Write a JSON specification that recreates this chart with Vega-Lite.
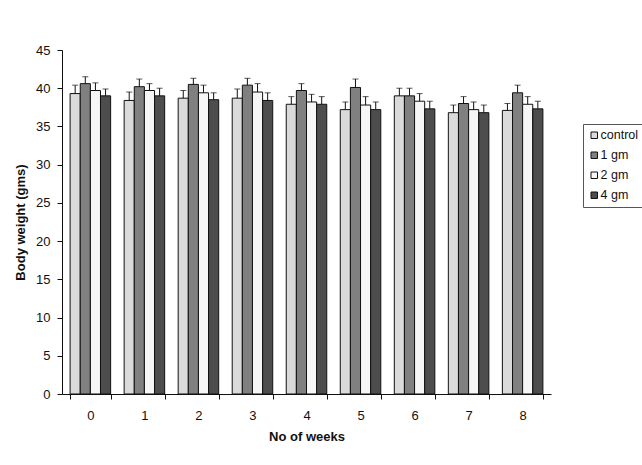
{
  "$schema": "https://vega.github.io/schema/vega-lite/v6.json",
  "width": 489,
  "height": 344,
  "autosize": {"type": "none"},
  "padding": {"left": 62, "top": 50, "right": 91, "bottom": 71},
  "background": "white",
  "data": {
    "values": [
      {"week": "0", "group": "control", "mean": 39.3, "upper": 40.4},
      {"week": "0", "group": "1 gm", "mean": 40.6, "upper": 41.5},
      {"week": "0", "group": "2 gm", "mean": 39.7, "upper": 40.7},
      {"week": "0", "group": "4 gm", "mean": 39.0, "upper": 39.9},
      {"week": "1", "group": "control", "mean": 38.4, "upper": 39.5},
      {"week": "1", "group": "1 gm", "mean": 40.2, "upper": 41.2},
      {"week": "1", "group": "2 gm", "mean": 39.7, "upper": 40.6},
      {"week": "1", "group": "4 gm", "mean": 39.0, "upper": 40.0},
      {"week": "2", "group": "control", "mean": 38.7, "upper": 39.7},
      {"week": "2", "group": "1 gm", "mean": 40.5, "upper": 41.3},
      {"week": "2", "group": "2 gm", "mean": 39.4, "upper": 40.4},
      {"week": "2", "group": "4 gm", "mean": 38.5, "upper": 39.4},
      {"week": "3", "group": "control", "mean": 38.7, "upper": 39.9},
      {"week": "3", "group": "1 gm", "mean": 40.4, "upper": 41.3},
      {"week": "3", "group": "2 gm", "mean": 39.5, "upper": 40.6},
      {"week": "3", "group": "4 gm", "mean": 38.4, "upper": 39.4},
      {"week": "4", "group": "control", "mean": 37.9, "upper": 38.9},
      {"week": "4", "group": "1 gm", "mean": 39.7, "upper": 40.6},
      {"week": "4", "group": "2 gm", "mean": 38.2, "upper": 39.2},
      {"week": "4", "group": "4 gm", "mean": 37.9, "upper": 38.9},
      {"week": "5", "group": "control", "mean": 37.2, "upper": 38.2},
      {"week": "5", "group": "1 gm", "mean": 40.1, "upper": 41.2},
      {"week": "5", "group": "2 gm", "mean": 37.8, "upper": 38.9},
      {"week": "5", "group": "4 gm", "mean": 37.2, "upper": 38.2},
      {"week": "6", "group": "control", "mean": 39.0, "upper": 40.0},
      {"week": "6", "group": "1 gm", "mean": 39.0, "upper": 40.0},
      {"week": "6", "group": "2 gm", "mean": 38.3, "upper": 39.3},
      {"week": "6", "group": "4 gm", "mean": 37.3, "upper": 38.3},
      {"week": "7", "group": "control", "mean": 36.8, "upper": 37.8},
      {"week": "7", "group": "1 gm", "mean": 38.0, "upper": 38.9},
      {"week": "7", "group": "2 gm", "mean": 37.2, "upper": 38.2},
      {"week": "7", "group": "4 gm", "mean": 36.8, "upper": 37.8},
      {"week": "8", "group": "control", "mean": 37.1, "upper": 38.0},
      {"week": "8", "group": "1 gm", "mean": 39.4, "upper": 40.4},
      {"week": "8", "group": "2 gm", "mean": 37.9, "upper": 38.9},
      {"week": "8", "group": "4 gm", "mean": 37.3, "upper": 38.3}
    ]
  },
  "encoding": {
    "x": {
      "field": "week", "type": "nominal", "title": "No of weeks",
      "scale": {"paddingInner": 0.25, "paddingOuter": 0.15},
      "axis": {"labelAngle": 0, "tickBand": "extent", "tickSize": 5, "labelPadding": 10, "titlePadding": 8}
    },
    "xOffset": {"field": "group", "type": "nominal", "sort": ["control", "1 gm", "2 gm", "4 gm"]}
  },
  "layer": [
    {
      "mark": {"type": "bar", "stroke": "#111", "strokeWidth": 1},
      "encoding": {
        "y": {
          "field": "mean", "type": "quantitative", "title": "Body weight (gms)",
          "scale": {"domain": [0, 45]},
          "axis": {"values": [0, 5, 10, 15, 20, 25, 30, 35, 40, 45], "tickSize": 5, "labelPadding": 7, "titlePadding": 8}
        },
        "color": {
          "field": "group", "type": "nominal", "title": null,
          "sort": ["control", "1 gm", "2 gm", "4 gm"],
          "scale": {"domain": ["control", "1 gm", "2 gm", "4 gm"], "range": ["#dadada", "#808080", "#f6f6f6", "#4d4d4d"]},
          "legend": {
            "orient": "none", "legendX": 521, "legendY": 74,
            "symbolType": "square", "symbolSize": 42, "symbolStrokeColor": "#111", "symbolStrokeWidth": 1,
            "strokeColor": "#555", "padding": 5, "rowPadding": 7,
            "labelFontSize": 12.5, "labelColor": "#111", "labelOffset": 0
          }
        }
      }
    },
    {
      "mark": {"type": "rule", "color": "#111", "strokeWidth": 1},
      "encoding": {
        "y": {
          "field": "mean", "type": "quantitative", "title": "Body weight (gms)",
          "scale": {"domain": [0, 45]},
          "axis": {"values": [0, 5, 10, 15, 20, 25, 30, 35, 40, 45], "tickSize": 5, "labelPadding": 7, "titlePadding": 8}
        },
        "y2": {"field": "upper"}
      }
    },
    {
      "mark": {"type": "tick", "color": "#111", "thickness": 1, "size": 6},
      "encoding": {
        "y": {
          "field": "upper", "type": "quantitative", "title": "Body weight (gms)",
          "scale": {"domain": [0, 45]},
          "axis": {"values": [0, 5, 10, 15, 20, 25, 30, 35, 40, 45], "tickSize": 5, "labelPadding": 7, "titlePadding": 8}
        }
      }
    }
  ],
  "config": {
    "font": "Liberation Sans",
    "view": {"stroke": null},
    "axis": {
      "grid": false, "domainColor": "#111", "tickColor": "#111",
      "labelFont": "Liberation Sans", "labelFontSize": 13, "labelColor": "#111",
      "titleFont": "Liberation Sans", "titleFontSize": 13, "titleFontWeight": "bold", "titleColor": "#111"
    }
  }
}
